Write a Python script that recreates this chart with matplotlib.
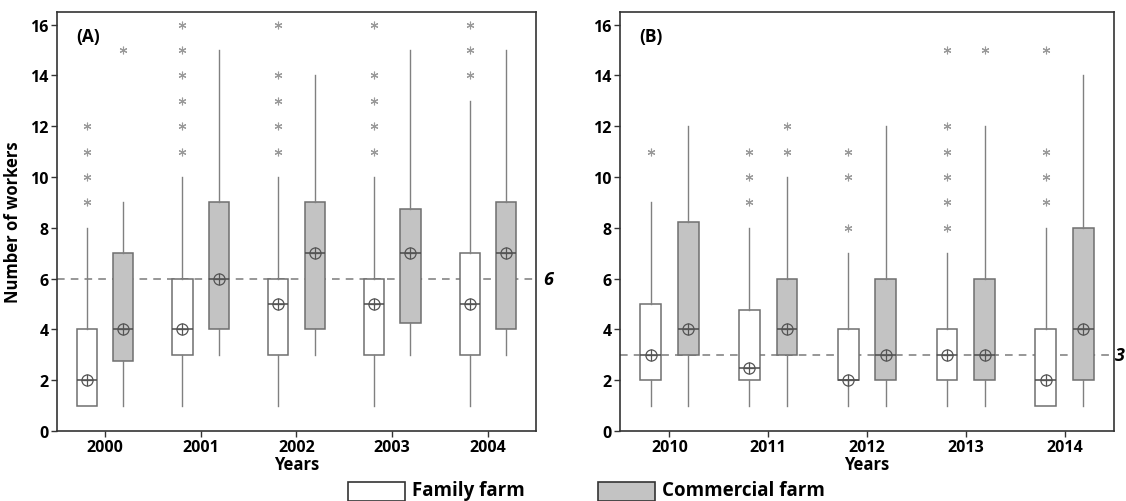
import matplotlib
matplotlib.use("Agg")
import matplotlib.pyplot as plt
from matplotlib.patches import Rectangle

plt.rcParams['font.family'] = ['Open Sans', 'DejaVu Sans']

# ---- panel A : 2000-2004 ----
years_a = ['2000', '2001', '2002', '2003', '2004']
fam_a_q1   = [1, 3, 3, 3, 3]
fam_a_q3   = [4, 6, 6, 6, 7]
fam_a_med  = [2, 4, 5, 5, 5]
fam_a_mean = [2, 4, 5, 5, 5]
fam_a_lo   = [1, 1, 1, 1, 1]
fam_a_hi   = [8, 10, 10, 10, 13]
fam_a_out  = [[9, 10, 11, 12], [11, 12, 13, 14, 15, 16], [11, 12, 13, 14, 16],
              [11, 12, 13, 14, 16], [14, 15, 16]]

com_a_q1   = [2.75, 4, 4, 4.25, 4]
com_a_q3   = [7, 9, 9, 8.75, 9]
com_a_med  = [4, 6, 7, 7, 7]
com_a_mean = [4, 6, 7, 7, 7]
com_a_lo   = [1, 3, 3, 3, 3]
com_a_hi   = [9, 15, 14, 15, 15]
com_a_out  = [[15], [], [], [], []]
ref_a = 6

# ---- panel B : 2010-2014 ----
years_b = ['2010', '2011', '2012', '2013', '2014']
fam_b_q1   = [2, 2, 2, 2, 1]
fam_b_q3   = [5, 4.75, 4, 4, 4]
fam_b_med  = [3, 2.5, 2, 3, 2]
fam_b_mean = [3, 2.5, 2, 3, 2]
fam_b_lo   = [1, 1, 1, 1, 1]
fam_b_hi   = [9, 8, 7, 7, 8]
fam_b_out  = [[11], [9, 10, 11], [8, 10, 11], [8, 9, 10, 11, 12, 15], [9, 10, 11, 15]]

com_b_q1   = [3, 3, 2, 2, 2]
com_b_q3   = [8.25, 6, 6, 6, 8]
com_b_med  = [4, 4, 3, 3, 4]
com_b_mean = [4, 4, 3, 3, 4]
com_b_lo   = [1, 1, 1, 1, 1]
com_b_hi   = [12, 10, 12, 12, 14]
com_b_out  = [[], [11, 12], [], [15], []]
ref_b = 3

EDGE = '#6f6f6f'
FILL_COM = '#c3c3c3'
DX = 0.19
BW = 0.21


def make_stats(q1, q3, med, lo, hi, out):
	stats = []
	for i in range(len(q1)):
		stats.append(dict(q1=q1[i], q3=q3[i], med=med[i], whislo=lo[i],
						  whishi=hi[i], fliers=out[i]))
	return stats


def draw_group(ax, pos, q1, q3, med, mean, lo, hi, out, fill):
	ax.bxp(make_stats(q1, q3, med, lo, hi, out), positions=pos, widths=BW,
		   patch_artist=True, showcaps=False, showmeans=False,
		   boxprops=dict(facecolor=fill, edgecolor=EDGE, linewidth=1.1),
		   whiskerprops=dict(color='#808080', linewidth=1.0),
		   medianprops=dict(color='#4a4a4a', linewidth=1.1),
		   flierprops=dict(marker=(6, 2, 0), markersize=5.5, markeredgecolor='#9a9a9a',
						   markeredgewidth=0.8, linestyle='none'))
	# mean symbol: circle with a cross
	ax.plot(pos, mean, linestyle='none', marker='o', markersize=8,
			markerfacecolor='none', markeredgecolor='#555555', markeredgewidth=0.9, zorder=4)
	ax.plot(pos, mean, linestyle='none', marker='+', markersize=8,
			markeredgecolor='#555555', markeredgewidth=0.9, zorder=4)


def draw_panel(ax, years, fam, com, ref, tag, ref_x):
	x = list(range(len(years)))
	pf = [i - DX for i in x]
	pc = [i + DX for i in x]
	draw_group(ax, pf, *fam, fill='white')
	draw_group(ax, pc, *com, fill=FILL_COM)
	ax.axhline(ref, color='#7a7a7a', linestyle=(0, (5, 4)), linewidth=1.1, zorder=0.5)
	ax.text(ref_x, ref, str(ref), fontsize=13, fontweight='bold', style='italic',
			ha='center', va='center', clip_on=False)
	ax.set_xlim(-0.5, 4.5)
	ax.set_ylim(0, 16.5)
	ax.set_xticks(x)
	ax.set_xticklabels(years)
	ax.set_yticks(range(0, 17, 2))
	for lab in ax.get_xticklabels() + ax.get_yticklabels():
		lab.set_fontweight('bold')
		lab.set_fontsize(11.5)
	ax.tick_params(direction='out', length=4, width=1, color='#333333', pad=2)
	for sp in ax.spines.values():
		sp.set_color('#333333')
		sp.set_linewidth(1.2)
	ax.set_xlabel('Years', fontsize=12, fontweight='bold', labelpad=0)
	ax.text(0.04, 0.965, tag, transform=ax.transAxes, fontsize=12.5,
			fontweight='bold', ha='left', va='top')


fig = plt.figure(figsize=(11.26, 5.02), dpi=100)
axA = fig.add_axes([0.0506, 0.1394, 0.4254, 0.8347])
axB = fig.add_axes([0.5506, 0.1394, 0.4387, 0.8347])

draw_panel(axA, years_a,
		   (fam_a_q1, fam_a_q3, fam_a_med, fam_a_mean, fam_a_lo, fam_a_hi, fam_a_out),
		   (com_a_q1, com_a_q3, com_a_med, com_a_mean, com_a_lo, com_a_hi, com_a_out),
		   ref_a, '(A)', 4.63)
draw_panel(axB, years_b,
		   (fam_b_q1, fam_b_q3, fam_b_med, fam_b_mean, fam_b_lo, fam_b_hi, fam_b_out),
		   (com_b_q1, com_b_q3, com_b_med, com_b_mean, com_b_lo, com_b_hi, com_b_out),
		   ref_b, '(B)', 4.56)
axA.set_ylabel('Number of workers', fontsize=12, fontweight='bold', labelpad=6)

# legend at the bottom of the figure
W, H = 1126.0, 502.0
fig.patches.append(Rectangle((348 / W, 0), 57 / W, (502 - 483) / H, transform=fig.transFigure,
							 facecolor='white', edgecolor='#333333', linewidth=1.2))
fig.text(412 / W, 1 / H, 'Family farm', fontsize=13.5, fontweight='bold', va='bottom')
fig.patches.append(Rectangle((598 / W, 0), 57 / W, (502 - 483) / H, transform=fig.transFigure,
							 facecolor=FILL_COM, edgecolor='#333333', linewidth=1.2))
fig.text(662 / W, 1 / H, 'Commercial farm', fontsize=13.5, fontweight='bold', va='bottom')

fig.savefig('out.png', dpi=100)
